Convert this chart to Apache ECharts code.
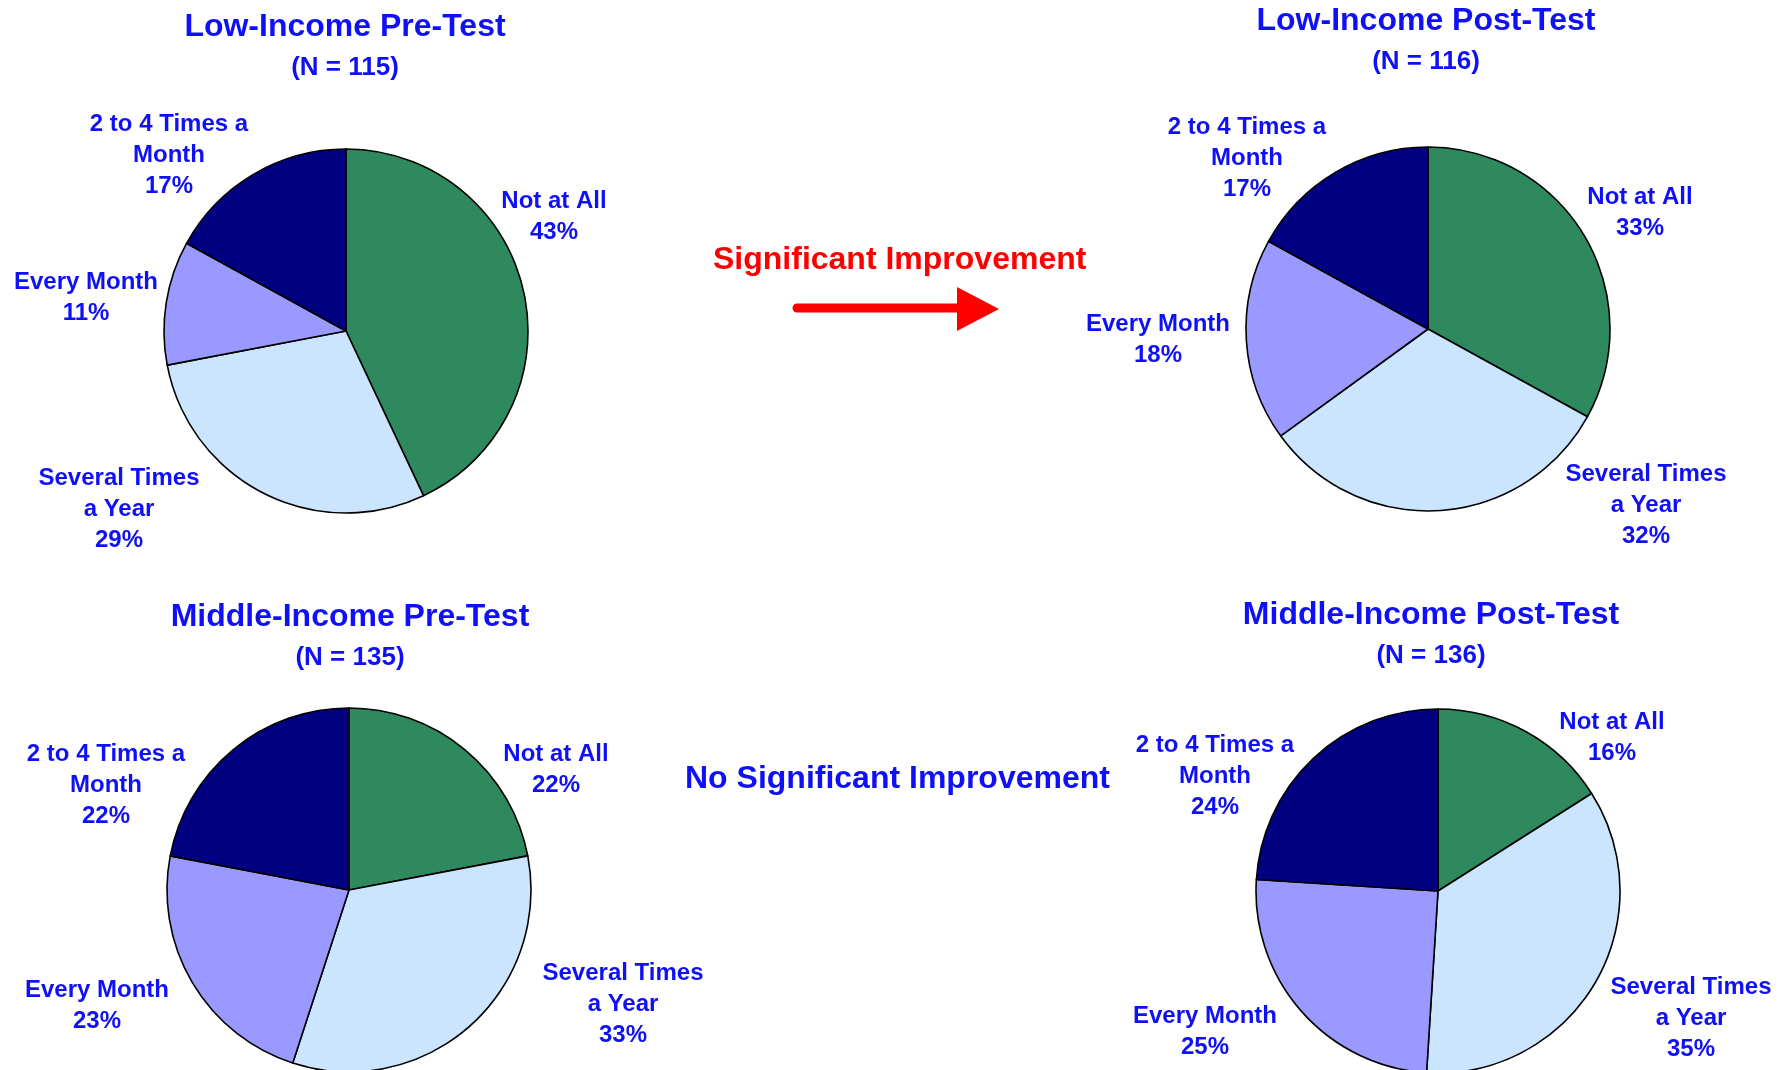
<!DOCTYPE html>
<html>
<head>
<meta charset="utf-8">
<script src="https://cdn.jsdelivr.net/npm/echarts@6/dist/echarts.min.js"></script>
<style>
  html, body { margin: 0; padding: 0; background: #fff; }
  #main { width: 1790px; height: 1070px; }
</style>
</head>
<body>
<div id="main"></div>
<script>
var chart = echarts.init(document.getElementById("main"));

// 类别（顺时针，从12点开始）
var categories = ["Not at All", "Several Times\na Year", "Every Month", "2 to 4 Times a\nMonth"];
var colors = ["#2E8A5E", "#CCE5FF", "#9999FF", "#000080"];

// 四个饼图的标题和样本量
var titles = ["Low-Income Pre-Test", "Low-Income Post-Test", "Middle-Income Pre-Test", "Middle-Income Post-Test"];
var sampleN = [115, 116, 135, 136];

// 百分比
var lowPre = [43, 29, 11, 17];
var lowPost = [33, 32, 18, 17];
var midPre = [22, 33, 23, 22];
var midPost = [16, 35, 25, 24];
var allValues = [lowPre, lowPost, midPre, midPost];

// 饼图位置
var centers = [[346, 331], [1428, 329], [349, 890], [1438, 891]];
var radius = 182;
var titleX = [345, 1426, 350, 1431];
var titleTops = [9, 3, 599, 597];

// 标签位置（每个饼图四个标签中心）
var labelPos = [
    [[554, 217], [119, 509], [86, 298], [169, 155]],
    [[1640, 213], [1646, 505], [1158, 340], [1247, 158]],
    [[556, 770], [623, 1004], [97, 1006], [106, 785]],
    [[1612, 738], [1691, 1018], [1205, 1032], [1215, 776]]
];

var fontFamily = 'Arial, "Liberation Sans", sans-serif';
var blue = "#1010F8";

var title_list = [];
var series = [];
for (var i = 0; i < 4; i++) {
    title_list.push({
        text: titles[i],
        subtext: "(N = " + sampleN[i] + ")",
        left: titleX[i],
        top: titleTops[i],
        textAlign: "center",
        padding: 0,
        itemGap: 8,
        textStyle: { color: blue, fontSize: 32, fontWeight: "bold", fontFamily: fontFamily, lineHeight: 36 },
        subtextStyle: { color: blue, fontSize: 26, fontWeight: "bold", fontFamily: fontFamily, lineHeight: 30 }
    });
    var data = [];
    for (var k = 0; k < categories.length; k++) {
        data.push({ name: categories[k], value: allValues[i][k], itemStyle: { color: colors[k] } });
    }
    (function (idx) {
        series.push({
            type: "pie",
            center: centers[idx],
            radius: radius,
            startAngle: 90,
            clockwise: true,
            data: data,
            itemStyle: { borderColor: "#000", borderWidth: 1.6 },
            emphasis: { disabled: true },
            label: {
                show: true,
                position: "inside",
                formatter: "{b}\n{c}%",
                color: blue,
                fontSize: 24,
                fontWeight: "bold",
                fontFamily: fontFamily,
                lineHeight: 31,
                align: "center",
                overflow: "none"
            },
            labelLine: { show: false },
            labelLayout: function (params) {
                var p = labelPos[idx][params.dataIndex];
                return { x: p[0], y: p[1], align: "center", verticalAlign: "middle" };
            }
        });
    })(i);
}

var option = {
    backgroundColor: "#fff",
    animation: false,
    title: title_list,
    series: series,
    graphic: [
        {
            type: "text",
            left: 901 - 188, top: 258 - 14,
            style: { text: "Significant Improvement", fill: "#FF0000", font: "bold 32px " + fontFamily }
        },
        {
            type: "line",
            shape: { x1: 797, y1: 308, x2: 960, y2: 308 },
            style: { stroke: "#FF0000", lineWidth: 9, lineCap: "round" }
        },
        {
            type: "polygon",
            shape: { points: [[957, 287], [999, 309], [957, 331]] },
            style: { fill: "#FF0000" }
        },
        {
            type: "text",
            left: 898 - 213, top: 777 - 14,
            style: { text: "No Significant Improvement", fill: blue, font: "bold 32px " + fontFamily }
        }
    ]
};
chart.setOption(option);
</script>
</body>
</html>
